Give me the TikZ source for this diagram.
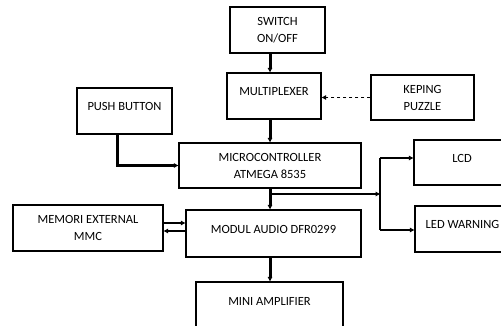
\documentclass[tikz,border=0pt]{standalone}
\usepackage{fontspec}
\setmainfont{Carlito}
\usepackage{tikz}
\usetikzlibrary{arrows.meta}
\usetikzlibrary{positioning}
\tikzset{
% Define standard arrow tip
>={Triangle[length=4.5pt, width=4.5pt]},
blok/.style={rectangle, draw=black, line width=1.4pt, align=center,
  inner sep=0, font=\fontsize{12.5}{17}\selectfont},
satu/.style={text height=8pt, text depth=8pt},
tebal/.style={->, line width=3pt},
sedang/.style={->, line width=2pt}
}

\begin{document}
\begin{tikzpicture}[x=1pt, y=-1pt]
  \useasboundingbox (0,0) rectangle (501,326);

  % blocks
  \node[blok, minimum width=95pt, minimum height=46pt] (switch) at (277.5,30) {SWITCH\\ON/OFF};
  \node[blok, satu, minimum width=94pt, minimum height=46pt] (mux) at (274,96) {MULTIPLEXER};
  \node[blok, minimum width=103pt, minimum height=45pt] (keping) at (422.5,97.5) {KEPING\\PUZZLE};
  \node[blok, satu, minimum width=95pt, minimum height=46pt] (push) at (124.5,111) {PUSH BUTTON};
  \node[blok, minimum width=182pt, minimum height=45pt] (micro) at (270,165.5) {MICROCONTROLLER\\ATMEGA 8535};
  \node[blok, satu, minimum width=96pt, minimum height=45pt] (lcd) at (462,162.5) {LCD};
  \node[blok, satu, minimum width=95pt, minimum height=46pt] (led) at (462.5,229) {LED WARNING};
  \node[blok, minimum width=150pt, minimum height=46pt] (memori) at (88,228) {MEMORI EXTERNAL\\MMC};
  \node[blok, satu, minimum width=175pt, minimum height=47pt] (modul) at (273.5,233.5) {MODUL AUDIO DFR0299};
  \node[blok, satu, minimum width=147pt, minimum height=46pt] (amp) at (269.5,305) {MINI AMPLIFIER};

  % connectors
  \draw[tebal] (switch.south -| micro) -- (mux.north -| micro);
  \draw[tebal] (mux.south -| micro) -- (micro.north);
  \draw[->, line width=1.3pt, dashed] (keping.west) -- (keping.west -| mux.east);
  \draw[->, line width=2.4pt] ([xshift=-7pt]push.south) |- (micro.west);
  \draw[tebal] (micro.south) -- (modul.north -| micro);
  \draw[tebal] (modul.south -| micro) -- (amp.north -| micro);

  \coordinate (cabang) at (270,194);
  \coordinate (busAtas) at (380,158);
  \coordinate (busBawah) at (380,230);
  \draw[sedang] (cabang) -- (cabang -| busAtas);
  \draw[line width=2pt] (busAtas) -- (busBawah);
  \draw[sedang] (busAtas) -- (busAtas -| lcd.west);
  \draw[sedang] (busBawah) -- (busBawah -| led.west);

  \draw[sedang] ([yshift=5pt]memori.east) -- ([yshift=5pt]memori.east -| modul.west);
  \draw[sedang] ([yshift=-3pt]memori.east -| modul.west) -- ([yshift=-3pt]memori.east);
\end{tikzpicture}
\end{document}
